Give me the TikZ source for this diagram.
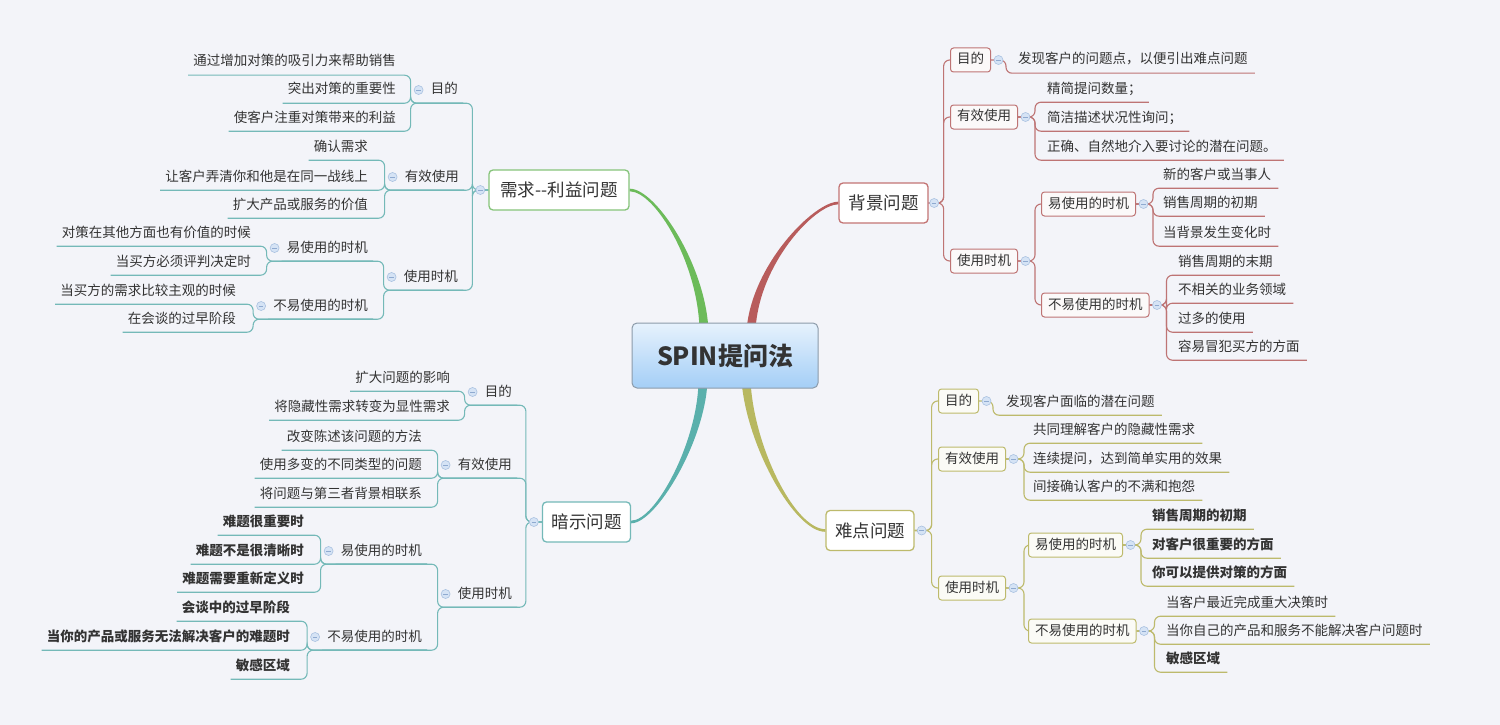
\documentclass[tikz,border=0pt]{standalone}
\usepackage{fontspec}
\setmainfont{Noto Sans CJK SC}
\usetikzlibrary{calc}
\definecolor{bgc}{HTML}{F3F4F9}
\definecolor{txt}{HTML}{333333}
\definecolor{gcol}{HTML}{6CBB5A}
\definecolor{rcol}{HTML}{B85C5C}
\definecolor{tcol}{HTML}{5AB0AC}
\definecolor{ocol}{HTML}{B8B860}
\definecolor{gbox}{HTML}{86C47A}
\definecolor{tthin}{HTML}{74B9B8}
\definecolor{rthin}{HTML}{BE7474}
\definecolor{othin}{HTML}{BDBA6C}
\definecolor{spinb}{HTML}{8C9BAA}
\definecolor{spint}{HTML}{E6F2FD}
\definecolor{spinbot}{HTML}{A4CEF6}
\definecolor{btnf}{HTML}{D5E3F5}
\definecolor{btnd}{HTML}{A9C1E0}
\definecolor{btnm}{HTML}{8FAAD0}
\definecolor{rfill}{HTML}{FBF9F9}
\definecolor{ofill}{HTML}{FBFBF6}
\pgfdeclarelayer{bglayer}
\pgfsetlayers{bglayer,main}
\begin{document}
\begin{tikzpicture}[x=1pt,y=-1pt,
  every node/.style={text=txt},
  mainbox/.style={draw, rounded corners=4pt, fill=white, line width=1.3pt,
    font=\fontsize{17.5}{20}\selectfont, inner xsep=8pt, minimum height=40pt},
  subbox/.style={draw, rounded corners=3pt, line width=1pt, anchor=west,
    font=\fontsize{13.5}{15}\selectfont, inner xsep=6.5pt, inner ysep=5.5pt,
    text height=10.5pt, text depth=2.5pt},
  rsub/.style={subbox, draw=rthin, fill=rfill},
  osub/.style={subbox, draw=othin, fill=ofill},
  leafbase/.style={font=\fontsize{13.5}{15}\selectfont, inner ysep=6.5pt,
    text height=10.5pt, text depth=2.5pt},
  rleaf/.style={leafbase, anchor=west, inner xsep=7pt},
  lleaf/.style={leafbase, anchor=east, inner xsep=5pt},
  rleafb/.style={rleaf, font=\fontsize{13.5}{15}\selectfont\bfseries},
  lleafb/.style={lleaf, font=\fontsize{13.5}{15}\selectfont\bfseries},
  tl/.style={draw=tthin, line width=1.1pt, rounded corners=6pt},
  rl/.style={draw=rthin, line width=1.1pt, rounded corners=6pt},
  ol/.style={draw=othin, line width=1.1pt, rounded corners=6pt},
  btn/.style={circle, draw=btnd, fill=btnf, line width=0.6pt, minimum size=9pt,
    inner sep=0pt, path picture={\draw[btnm, line width=0.8pt]
      ([xshift=2.2pt]path picture bounding box.west) --
      ([xshift=-2.2pt]path picture bounding box.east);}}
]
\useasboundingbox (0,0) rectangle (1500,725);

% ---------------- central and main nodes
\node[draw=spinb, rounded corners=5pt, top color=spint, bottom color=spinbot,
  line width=1pt, minimum width=186pt, minimum height=65pt,
  font=\fontsize{25}{28}\selectfont\bfseries, text=txt] (spin) at (725,355.5) {SPIN提问法};
\node[mainbox, draw=gbox, minimum width=140pt] (need) at (559,190) {需求-{}-利益问题};
\node[mainbox, draw=rcol!85, minimum width=89pt] (bg) at (883.5,203) {背景问题};
\node[mainbox, draw=tthin, minimum width=88pt] (imp) at (586.5,522) {暗示问题};
\node[mainbox, draw=othin, minimum width=88pt] (diff) at (870,530.5) {难点问题};

% ---------------- 背景问题 subtree
\node[rsub] (bgA) at (950,60) {目的};
\node[rsub] (bgB) at (950,117) {有效使用};
\node[rsub] (bgC) at (950,261) {使用时机};
\node[rsub] (bgC1) at (1041,204) {易使用的时机};
\node[rsub] (bgC2) at (1041,305) {不易使用的时机};
\node[rleaf] (bgA1) at (1011,60) {发现客户的问题点，以便引出难点问题};
\node[rleaf] (bgB1) at (1040,89) {精简提问数量；};
\node[rleaf] (bgB2) at (1040,118) {简洁描述状况性询问；};
\node[rleaf] (bgB3) at (1040,147) {正确、自然地介入要讨论的潜在问题。};
\node[rleaf] (bgC11) at (1156,175) {新的客户或当事人};
\node[rleaf] (bgC12) at (1156,203) {销售周期的初期};
\node[rleaf] (bgC13) at (1156,233) {当背景发生变化时};
\node[rleaf] (bgC21) at (1171,262) {销售周期的末期};
\node[rleaf] (bgC22) at (1171,290) {不相关的业务领域};
\node[rleaf] (bgC23) at (1171,319) {过多的使用};
\node[rleaf] (bgC24) at (1171,347) {容易冒犯买方的方面};

% ---------------- 难点问题 subtree
\node[osub] (dfA) at (938,401) {目的};
\node[osub] (dfB) at (938,459) {有效使用};
\node[osub] (dfC) at (938,588) {使用时机};
\node[osub] (dfC1) at (1028,545) {易使用的时机};
\node[osub] (dfC2) at (1028,631) {不易使用的时机};
\node[rleaf] (dfA1) at (999,402) {发现客户面临的潜在问题};
\node[rleaf] (dfB1) at (1026,430) {共同理解客户的隐藏性需求};
\node[rleaf] (dfB2) at (1026,459) {连续提问，达到简单实用的效果};
\node[rleaf] (dfB3) at (1026,487) {间接确认客户的不满和抱怨};
\node[rleafb] (dfC11) at (1145,516) {销售周期的初期};
\node[rleafb] (dfC12) at (1145,545) {对客户很重要的方面};
\node[rleafb] (dfC13) at (1145,573) {你可以提供对策的方面};
\node[rleaf] (dfC21) at (1159,603) {当客户最近完成重大决策时};
\node[rleaf] (dfC22) at (1159,631) {当你自己的产品和服务不能解决客户问题时};
\node[rleafb] (dfC23) at (1159,659) {敏感区域};

% ---------------- 需求--利益问题 subtree
\node[lleaf] (ndA) at (463,90) {目的};
\node[lleaf] (ndB) at (464,177) {有效使用};
\node[lleaf] (ndC) at (463,277) {使用时机};
\node[lleaf] (ndC1) at (373,248) {易使用的时机};
\node[lleaf] (ndC2) at (373,306) {不易使用的时机};
\node[lleaf] (ndA1) at (401,62) {通过增加对策的吸引力来帮助销售};
\node[lleaf] (ndA2) at (401,90) {突出对策的重要性};
\node[lleaf] (ndA3) at (401,118) {使客户注重对策带来的利益};
\node[lleaf] (ndB1) at (373,147) {确认需求};
\node[lleaf] (ndB2) at (373,177) {让客户弄清你和他是在同一战线上};
\node[lleaf] (ndB3) at (373,205) {扩大产品或服务的价值};
\node[lleaf] (ndC11) at (256,233) {对策在其他方面也有价值的时候};
\node[lleaf] (ndC12) at (256,262) {当买方必须评判决定时};
\node[lleaf] (ndC21) at (241,291) {当买方的需求比较主观的时候};
\node[lleaf] (ndC22) at (241,319) {在会谈的过早阶段};

% ---------------- 暗示问题 subtree
\node[lleaf] (imA) at (517,392) {目的};
\node[lleaf] (imB) at (517,465) {有效使用};
\node[lleaf] (imC) at (517,594) {使用时机};
\node[lleaf] (imC1) at (427,551) {易使用的时机};
\node[lleaf] (imC2) at (427,637) {不易使用的时机};
\node[lleaf] (imA1) at (455,378) {扩大问题的影响};
\node[lleaf] (imA2) at (455,407) {将隐藏性需求转变为显性需求};
\node[lleaf] (imB1) at (427,437) {改变陈述该问题的方法};
\node[lleaf] (imB2) at (427,465) {使用多变的不同类型的问题};
\node[lleaf] (imB3) at (427,494) {将问题与第三者背景相联系};
\node[lleafb] (imC11) at (309,522) {难题很重要时};
\node[lleafb] (imC12) at (309,551) {难题不是很清晰时};
\node[lleafb] (imC13) at (309,579) {难题需要重新定义时};
\node[lleafb] (imC21) at (295,608) {会谈中的过早阶段};
\node[lleafb] (imC22) at (295,637) {当你的产品或服务无法解决客户的难题时};
\node[lleafb] (imC23) at (295,666) {敏感区域};

% ---------------- connectors (behind nodes)
\begin{pgfonlayer}{bglayer}
\fill[bgc] (0,0) rectangle (1500,725);
% main tapered branches
\fill[gcol] ($(spin.north)+(-25.5,8)$) .. controls ($(spin.north)+(-26.5,-58)$) and ($(need.east)+(26,1.5)$) .. ($(need.east)+(0,1.3)$)
  -- ($(need.east)+(0,-1.3)$) .. controls ($(need.east)+(26,-1.5)$) and ($(spin.north)+(-19.5,-58)$) .. ($(spin.north)+(-16.5,8)$) -- cycle;
\fill[rcol] ($(spin.north)+(21.5,8)$) .. controls ($(spin.north)+(26.5,-58)$) and ($(bg.west)+(-24,-1.5)$) .. ($(bg.west)+(0,-1.3)$)
  -- ($(bg.west)+(0,1.3)$) .. controls ($(bg.west)+(-24,1.5)$) and ($(spin.north)+(33.5,-58)$) .. ($(spin.north)+(30.5,8)$) -- cycle;
\fill[tcol] ($(spin.south)+(-26.5,-8)$) .. controls ($(spin.south)+(-27,52)$) and ($(imp.east)+(25,-1.5)$) .. ($(imp.east)+(0,-1.3)$)
  -- ($(imp.east)+(0,1.3)$) .. controls ($(imp.east)+(25,1.5)$) and ($(spin.south)+(-19.5,52)$) .. ($(spin.south)+(-17.5,-8)$) -- cycle;
\fill[ocol] ($(spin.south)+(16.5,-8)$) .. controls ($(spin.south)+(21.5,57)$) and ($(diff.west)+(-31,1.5)$) .. ($(diff.west)+(0,1.3)$)
  -- ($(diff.west)+(0,-1.3)$) .. controls ($(diff.west)+(-31,-1.5)$) and ($(spin.south)+(28.5,57)$) .. ($(spin.south)+(25.5,-8)$) -- cycle;

% 背景问题
\foreach \c in {bgA,bgB,bgC} \path[rl] (bg.east) -- ++(15,0) |- (\c.west);
\path[rl] (bgA.east) -- ++(15,0) |- (bgA1.south east);
\foreach \c in {bgB1,bgB2,bgB3} \path[rl] (bgB.east) -- ++(17,0) |- (\c.south east);
\foreach \c in {bgC1,bgC2} \path[rl] (bgC.east) -- ++(17,0) |- (\c.west);
\foreach \c in {bgC11,bgC12,bgC13} \path[rl] (bgC1.east) -- ++(17,0) |- (\c.south east);
\foreach \c in {bgC21,bgC22,bgC23,bgC24} \path[rl] (bgC2.east) -- ++(17,0) |- (\c.south east);

% 难点问题
\foreach \c in {dfA,dfB,dfC} \path[ol] (diff.east) -- ++(17,0) |- (\c.west);
\path[ol] (dfA.east) -- ++(14,0) |- (dfA1.south east);
\foreach \c in {dfB1,dfB2,dfB3} \path[ol] (dfB.east) -- ++(18,0) |- (\c.south east);
\foreach \c in {dfC1,dfC2} \path[ol] (dfC.east) -- ++(18,0) |- (\c.west);
\foreach \c in {dfC11,dfC12,dfC13} \path[ol] (dfC1.east) -- ++(18,0) |- (\c.south east);
\foreach \c in {dfC21,dfC22,dfC23} \path[ol] (dfC2.east) -- ++(18,0) |- (\c.south east);

% 需求--利益问题
\foreach \c in {ndA,ndB,ndC} \path[tl] (need.west) -- ++(-16,0) |- (\c.south east);
\foreach \c in {ndA1,ndA2,ndA3} \path[tl] (ndA.south east) -- ([xshift=-15pt]ndA.south west) |- (\c.south west);
\foreach \c in {ndB1,ndB2,ndB3} \path[tl] (ndB.south east) -- ([xshift=-15pt]ndB.south west) |- (\c.south west);
\foreach \c in {ndC1,ndC2} \path[tl] (ndC.south east) -- ([xshift=-15pt]ndC.south west) |- (\c.south west);
\foreach \c in {ndC11,ndC12} \path[tl] (ndC1.south east) -- ([xshift=-15pt]ndC1.south west) |- (\c.south west);
\foreach \c in {ndC21,ndC22} \path[tl] (ndC2.south east) -- ([xshift=-15pt]ndC2.south west) |- (\c.south west);

% 暗示问题
\foreach \c in {imA,imB,imC} \path[tl] (imp.west) -- ++(-16,0) |- (\c.south east);
\foreach \c in {imA1,imA2} \path[tl] (imA.south east) -- ([xshift=-15pt]imA.south west) |- (\c.south west);
\foreach \c in {imB1,imB2,imB3} \path[tl] (imB.south east) -- ([xshift=-15pt]imB.south west) |- (\c.south west);
\foreach \c in {imC1,imC2} \path[tl] (imC.south east) -- ([xshift=-15pt]imC.south west) |- (\c.south west);
\foreach \c in {imC11,imC12,imC13} \path[tl] (imC1.south east) -- ([xshift=-15pt]imC1.south west) |- (\c.south west);
\foreach \c in {imC21,imC22,imC23} \path[tl] (imC2.south east) -- ([xshift=-15pt]imC2.south west) |- (\c.south west);
\end{pgfonlayer}

% ---------------- collapse buttons
\node[btn] (k1) at ([xshift=5.5pt]bg.east) {};
\node[btn] (k2) at ([xshift=7pt]diff.east) {};
\node[btn] (k3) at ([xshift=-8pt]need.west) {};
\node[btn] (k4) at ([xshift=-8pt]imp.west) {};
\foreach \c in {bgA,bgB,bgC,bgC1,bgC2,dfA,dfB,dfC,dfC1,dfC2}
  \node[btn] (k\c) at ([xshift=7.5pt]\c.east) {};
\foreach \c in {ndA,ndB,ndC,ndC1,ndC2,imA,imB,imC,imC1,imC2}
  \node[btn] (k\c) at ([xshift=-7pt]\c.west) {};
\end{tikzpicture}
\end{document}
